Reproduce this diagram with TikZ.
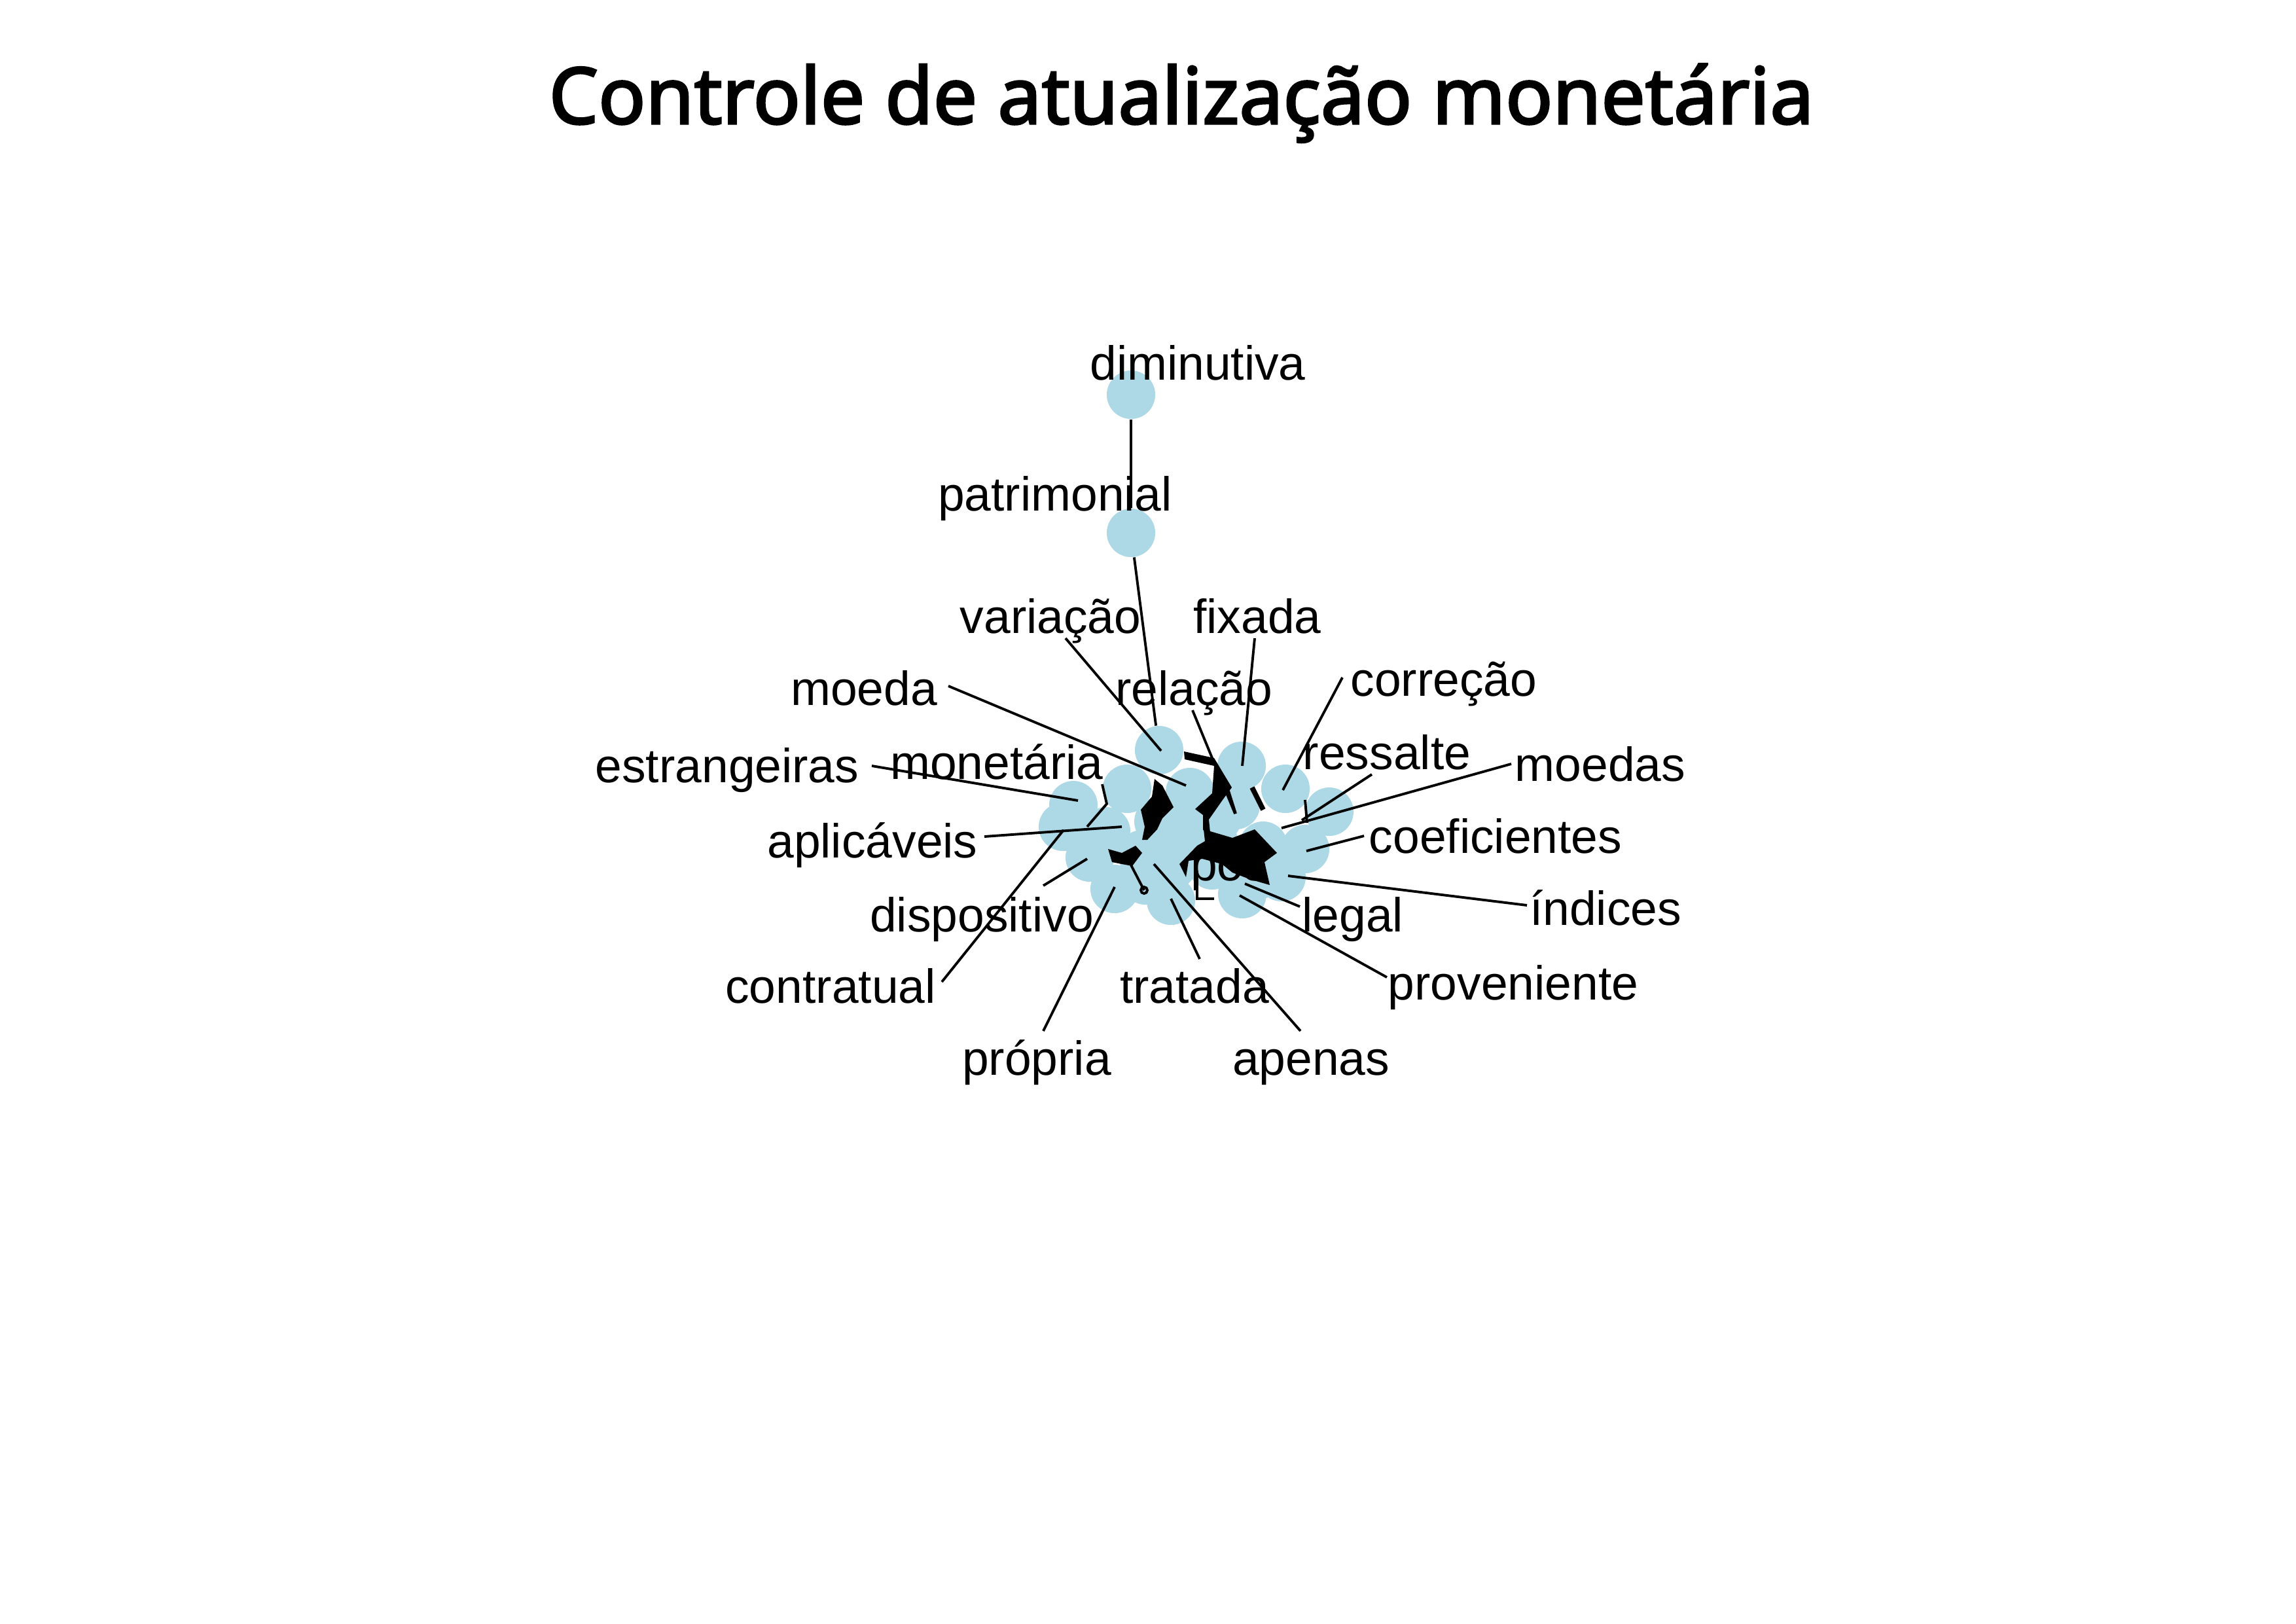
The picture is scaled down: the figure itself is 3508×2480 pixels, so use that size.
\documentclass[tikz,border=0pt]{standalone}
\usepackage{fontspec}
\setmainfont{Liberation Sans}
\newfontfamily\titlefont[FakeBold=2.6]{Noto Sans}
\definecolor{lightblue}{HTML}{ADD8E6}
\tikzset{
  vtx/.style={circle,fill=lightblue,minimum size=7.4mm,inner sep=0pt},
  word/.style={anchor=base,inner sep=0pt,font=\fontsize{20.8}{24}\selectfont},
  edge/.style={line width=1.1pt},
  blob/.style={fill=black}
}
\begin{document}
\begin{tikzpicture}[x=0.01cm,y=-0.01cm]
\useasboundingbox (0,0) rectangle (3508,2480);
\node[anchor=base,inner sep=0pt,font=\titlefont\fontsize{34}{40}\selectfont](title) at (1805,189){Controle de atualização monetária};
% vertices
\node[vtx](dim) at (1728,603){};
\node[vtx](pat) at (1728,814){};
\node[vtx](A) at (1771,1146){};
\node[vtx](B) at (1897,1170){};
\node[vtx](C) at (1964,1205){};
\node[vtx](D) at (2031,1240){};
\node[vtx](E) at (1994,1297){};
\node[vtx](F) at (1958,1340){};
\node[vtx](G) at (1898,1366){};
\node[vtx](H) at (1789,1376){};
\node[vtx](I) at (1703,1358){};
\node[vtx](J) at (1665,1310){};
\node[vtx](K) at (1624,1263){};
\node[vtx](L) at (1640,1230){};
\node[vtx](M) at (1722,1205){};
\node[vtx](N) at (1818,1210){};
\node[vtx](O) at (1888,1230){};
\node[vtx](P) at (1818,1275){};
\node[vtx](Q) at (1791,1322){};
\node[vtx](R) at (1930,1292){};
\node[vtx](S) at (1852,1322){};
\node[vtx](T) at (1745,1305){};
\node[vtx](U) at (1770,1255){};
\node[vtx](V) at (1690,1270){};
\node[vtx](W) at (1855,1288){};
\node[vtx](X) at (1930,1335){};
\node[vtx](Y) at (1860,1250){};
\node[vtx](Z) at (1750,1345){};
\draw[edge](dim)--(pat);
\draw[edge](pat)--(A);
% dense edges
\fill[blob](1839,1267)--(1856,1272)--(1883,1280)--(1917,1267)--(1951,1303)--(1932,1317)--(1940,1352)--(1909,1343)--(1883,1333)--(1867,1320)--(1837,1312)--(1816,1315)--(1812,1340)--(1802,1320)--(1829,1292)--(1841,1285)--cycle;
\fill[blob](1809,1148)--(1855,1158)--(1882,1203)--(1868,1222)--(1847,1252)--(1849,1272)--(1838,1268)--(1838,1245)--(1826,1236)--(1852,1212)--(1855,1170)--(1810,1160)--cycle;
\fill[blob](1764,1190)--(1776,1200)--(1793,1233)--(1776,1250)--(1768,1267)--(1753,1283)--(1745,1283)--(1749,1263)--(1743,1237)--(1760,1217)--cycle;
\fill[blob](1693,1297)--(1714,1303)--(1735,1292)--(1745,1303)--(1730,1323)--(1714,1320)--(1699,1317)--cycle;
% edge ends
\coordinate(varS) at (1628,975);   \coordinate(varE) at (1774,1147);
\coordinate(fixS) at (1917,975);   \coordinate(fixE) at (1898,1170);
\coordinate(relS) at (1822,1085);  \coordinate(relE) at (1887,1243);
\coordinate(moeS) at (1449,1048);  \coordinate(moeE) at (1812,1200);
\coordinate(corS) at (2051,1035);  \coordinate(corE) at (1960,1207);
\coordinate(resS) at (2096,1183);  \coordinate(resE) at (1989,1253);
\coordinate(mdsS) at (2309,1167);  \coordinate(mdsE) at (1958,1265);
\coordinate(estS) at (1332,1170);  \coordinate(estE) at (1647,1223);
\coordinate(aplS) at (1504,1278);  \coordinate(aplE) at (1714,1263);
\coordinate(coeS) at (2084,1277);  \coordinate(coeE) at (1996,1300);
\coordinate(indS) at (2333,1383);  \coordinate(indE) at (1968,1338);
\coordinate(legS) at (1986,1385);  \coordinate(legE) at (1902,1350);
\coordinate(proS) at (2119,1493);  \coordinate(proE) at (1894,1368);
\coordinate(conS) at (1439,1500);  \coordinate(conE) at (1625,1268);
\coordinate(disS) at (1594,1353);  \coordinate(disE) at (1661,1312);
\coordinate(prpS) at (1594,1575);  \coordinate(prpE) at (1703,1355);
\coordinate(traS) at (1833,1465);  \coordinate(traE) at (1789,1373);
\coordinate(apeS) at (1987,1575);  \coordinate(apeE) at (1763,1320);
\coordinate(inA) at (1684,1198);   \coordinate(inB) at (1691,1228);   \coordinate(inC) at (1661,1263);
\coordinate(inD) at (1913,1203);   \coordinate(inE) at (1930,1237);
\coordinate(inF) at (1994,1222);   \coordinate(inG) at (1997,1257);
\coordinate(inH) at (1722,1310);   \coordinate(inI) at (1748,1360);
\coordinate(inJ) at (1829,1330);   \coordinate(inK) at (1829,1373);   \coordinate(inL) at (1855,1373);
\coordinate(inM) at (1876,1205);   \coordinate(inN) at (1888,1243);
\draw[edge](varS)--(varE);
\draw[edge](fixS)--(fixE);
\draw[edge](relS)--(relE);
\draw[edge](moeS)--(moeE);
\draw[edge](corS)--(corE);
\draw[edge](resS)--(resE);
\draw[edge](mdsS)--(mdsE);
\draw[edge](estS)--(estE);
\draw[edge](aplS)--(aplE);
\draw[edge](coeS)--(coeE);
\draw[edge](indS)--(indE);
\draw[edge](legS)--(legE);
\draw[edge](proS)--(proE);
\draw[edge](conS)--(conE);
\draw[edge](disS)--(disE);
\draw[edge](prpS)--(prpE);
\draw[edge](traS)--(traE);
\draw[edge](apeS)--(apeE);
\draw[edge](inA)--(inB)--(inC);
\draw[line width=2.2pt](inD)--(inE);
\draw[edge](inF)--(inG);
\draw[edge](inH)--(inI);
\draw[edge](inI) circle (5);
\draw[edge](inJ)--(inK)--(inL);
\draw[edge](inM)--(inN);
% labels
\node[word](dimL) at (1830,580){diminutiva};
\node[word](patL) at (1612,780){patrimonial};
\node[word](varL) at (1605,967){variação};
\node[word](fixL) at (1921,967){fixada};
\node[word](relL) at (1824,1077){relação};
\node[word](moeL) at (1320,1077){moeda};
\node[word](corL) at (2206,1063){correção};
\node[word](resL) at (2119,1175){ressalte};
\node[word](mdsL) at (2445,1193){moedas};
\node[word](estL) at (1111,1195){estrangeiras};
\node[word](monL) at (1523,1190){monetária};
\node[word](aplL) at (1333,1310){aplicáveis};
\node[word](coeL) at (2285,1303){coeficientes};
\node[word](posL) at (1878,1345){pós};
\node[word](indL) at (2453,1413){índices};
\node[word](disL) at (1500,1423){dispositivo};
\node[word](legL) at (2067,1423){legal};
\node[word](conL) at (1269,1532){contratual};
\node[word](traL) at (1825,1532){tratada};
\node[word](proL) at (2312,1527){proveniente};
\node[word](prpL) at (1584,1642){própria};
\node[word](apeL) at (2003,1642){apenas};
\end{tikzpicture}
\end{document}
